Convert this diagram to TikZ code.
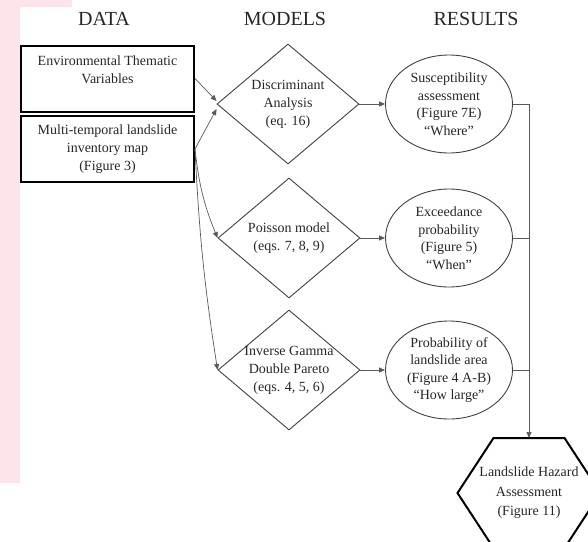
\documentclass[tikz,border=0pt]{standalone}
\usepackage{fontspec}
\setmainfont{Liberation Serif}
\usetikzlibrary{shapes.geometric,positioning,arrows.meta}
\definecolor{pinkbg}{RGB}{252,228,234}

\begin{document}
\begin{tikzpicture}[x=1pt,y=-1pt,>={Triangle[length=6pt,width=5pt]},
   every node/.style={font=\fontsize{14}{18}\selectfont,text=black!85,align=center},
   head/.style={font=\fontsize{20}{24}\selectfont},
   databox/.style={draw,line width=2pt,minimum width=173pt,minimum height=66pt,inner sep=0pt},
   model/.style={diamond,draw=black!75,line width=0.9pt,minimum width=142pt,minimum height=120pt,inner sep=-8pt},
   result/.style={ellipse,draw=black!75,line width=0.9pt,minimum width=127pt,minimum height=98pt,
      inner sep=0pt,font=\fontsize{14}{17.5}\selectfont},
   link/.style={->,draw=black!65,line width=0.7pt},
   wire/.style={draw=black!65,line width=0.7pt}]
 \path[use as bounding box,clip] (0,0) rectangle (588,541);
 \fill[pinkbg] (0,0) rectangle (20,483) (0,0) rectangle (72,7);
 % column titles
 \node[head] (hdata) at (104,19) {DATA};
 \node[head] (hmodels) at (285,19) {MODELS};
 \node[head] (hresults) at (476,19) {RESULTS};
 % data
 \node[databox] (env) at (107.5,78.5) {Environmental Thematic\\Variables\\~};
 \node[databox] (inv) at (107.5,149) {Multi-temporal landslide\\inventory map\\(Figure 3)};
 % models
 \node[model] (da) at (288,104) {Discriminant\\Analysis\\(eq. 16)};
 \node[model] (pm) at (289,238) {Poisson model\\(eqs. 7, 8, 9)};
 \node[model] (ig) at (289,370) {Inverse Gamma\\Double Pareto\\(eqs. 4, 5, 6)};
 % results
 \node[result] (sus) at (449,104) {Susceptibility\\assessment\\(Figure 7E)\\``Where''};
 \node[result] (exc) at (449,238) {Exceedance\\probability\\(Figure 5)\\``When''};
 \node[result] (area) at (449,370) {Probability of\\landslide area\\(Figure 4 A-B)\\``How large''};
 % hazard hexagon
 \node[font=\fontsize{14}{19.5}\selectfont] (hz) at (529,493) {Landslide Hazard\\Assessment\\(Figure 11)};
 \draw[line width=2pt,shift={(hz.center)}] (-35.5,-55) -- (35.5,-55) -- (71.5,0)
   -- (35.5,55) -- (-35.5,55) -- (-71.5,0) -- cycle;
 \coordinate (bus) at (529,104);
 \coordinate (hztop) at (529,438);
 % connectors
 \draw[link] (env.east) -- ([yshift=3pt]da.west);
 \draw[link] (inv.east) -- ([yshift=-5pt]da.west);
 \draw[link] (inv.east) to[bend right=8] (pm.west);
 \draw[link] (inv.east) to[bend right=3] (ig.west);
 \draw[link] (da.east) -- (sus.west);
 \draw[link] (pm.east) -- (exc.west);
 \draw[link] (ig.east) -- (area.west);
 \draw[link] (sus.east) -- (bus) -- (hztop);
 \draw[wire] (exc.east) -- (exc.east -| bus);
 \draw[wire] (area.east) -- (area.east -| bus);
\end{tikzpicture}
\end{document}
